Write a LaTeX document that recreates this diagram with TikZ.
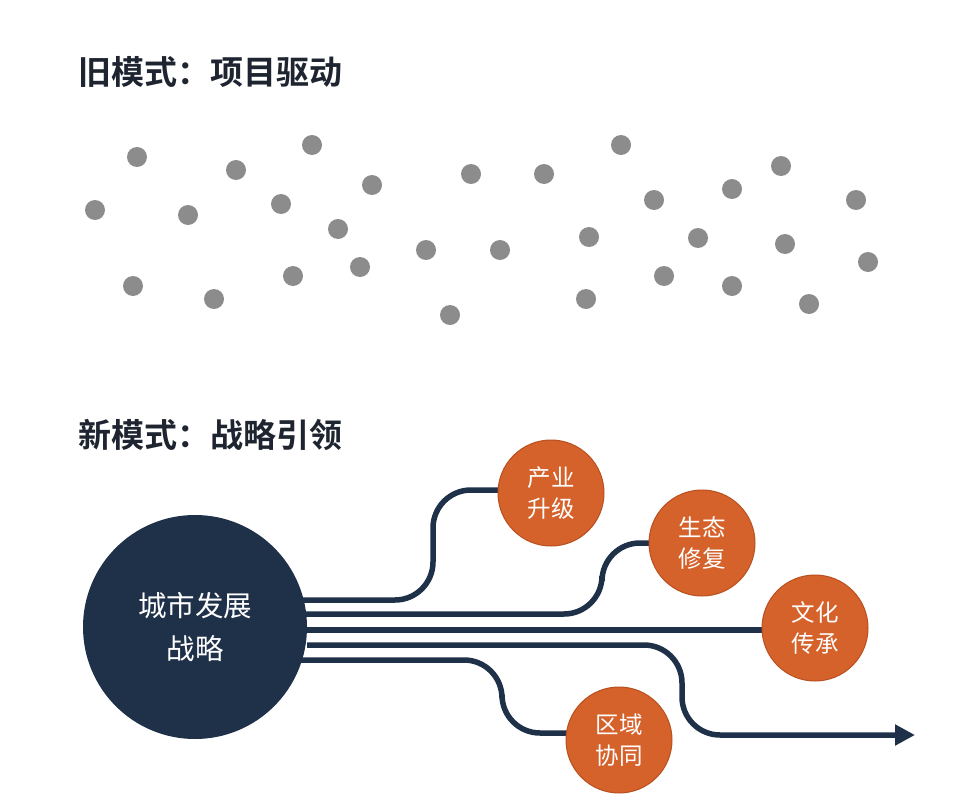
\documentclass[tikz,border=0pt]{standalone}
\usepackage{fontspec}
\setmainfont{Noto Sans CJK SC}
\newfontfamily\cjkbold{Noto Sans CJK SC Bold}
\usetikzlibrary{arrows.meta,backgrounds}
\definecolor{navy}{HTML}{1F3049}
\definecolor{titlec}{HTML}{1E2530}
\definecolor{orangec}{HTML}{D5612B}
\definecolor{orangeb}{HTML}{B9501F}
\definecolor{dotc}{HTML}{8C8C8C}
\tikzset{
  title/.style={anchor=west, font=\cjkbold\fontsize{33}{36}\selectfont, text=titlec, inner sep=0pt},
  dotnode/.style={circle, fill=dotc, minimum size=20pt, inner sep=0pt},
  hub/.style={circle, fill=navy, minimum size=224pt, inner sep=0pt, text=white, align=center, font=\fontsize{28.5}{43}\selectfont},
  leaf/.style={circle, fill=orangec, draw=orangeb, line width=1pt, minimum size=106pt, inner sep=0pt, text=white, align=center, font=\fontsize{23.5}{31}\selectfont},
  flow/.style={draw=navy, line width=5.5pt, rounded corners=38pt},
}
\begin{document}
\begin{tikzpicture}[x=1pt,y=-1pt]
\useasboundingbox (0,0) rectangle (974,800);
\node[title] (t1) at (78,72) {旧模式：项目驱动};
\node[title] (t2) at (78,435) {新模式：战略引领};
\foreach \i/\p in {1/{137,157},2/{236,170},3/{312,145},4/{95,210},5/{188,215},6/{281,204},7/{372,185},8/{338,229},9/{133,286},10/{214,299},11/{293,276},12/{360,267},13/{426,250},14/{450,315},15/{471,174},16/{500,250},17/{544,174},18/{621,145},19/{589,237},20/{586,299},21/{654,200},22/{664,276},23/{698,238},24/{732,189},25/{732,286},26/{781,166},27/{785,244},28/{809,304},29/{856,200},30/{868,262}}
  \node[dotnode] (d\i) at (\p) {};
\node[hub] (hub) at (195,627) {城市发展\\战略};
\node[leaf] (a) at (551,493) {产业\\升级};
\node[leaf] (b) at (702,543) {生态\\修复};
\node[leaf] (c) at (815,628) {文化\\传承};
\node[leaf] (d) at (619,740) {区域\\协同};
\coordinate (arrowend) at (915,735);
\begin{scope}[on background layer]
\fill[white] (0,0) rectangle (974,800);
\draw[flow] (hub.center |- 0,600) -- (433,600) -- (433,490) -- (a.center |- 0,490);
\draw[flow] (hub.center |- 0,614) -- (602,614) -- (602,543) -- (b.center);
\draw[flow] (hub.center |- 0,630) -- (c.center |- 0,630);
\draw[flow] (hub.center |- 0,660) -- (502,660) -- (502,733) -- (d.center |- 0,733);
\end{scope}
\draw[flow,-{Triangle[length=20pt,width=20pt]}] (hub.east |- 0,645) -- (682,645) -- (682,735) -- (arrowend);
\end{tikzpicture}
\end{document}
